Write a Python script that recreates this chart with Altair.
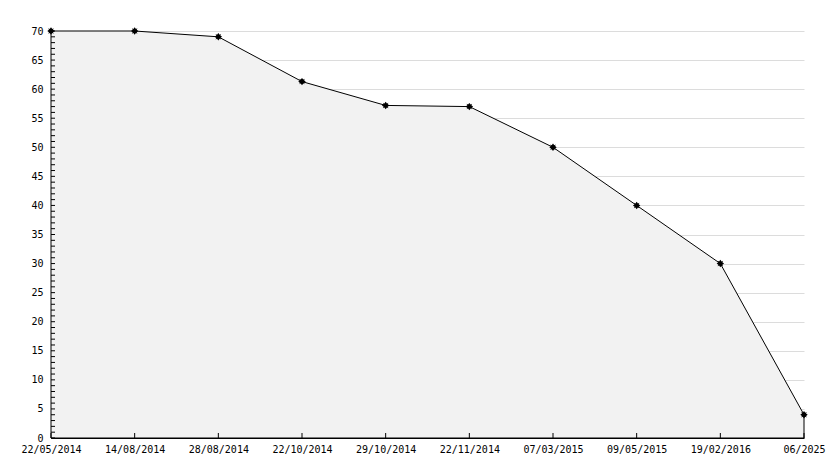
import altair as alt
import pandas as pd

dates = ["22/05/2014", "14/08/2014", "28/08/2014", "22/10/2014", "29/10/2014",
         "22/11/2014", "07/03/2015", "09/05/2015", "19/02/2016", "06/2025"]
values = [70, 70, 69, 61.3, 57.2, 57.0, 50, 40, 30, 4]
y_ticks = list(range(0, 71))
y_labels = list(range(0, 71, 5))

W, H = 753, 407
FONT = "DejaVu Sans Mono"

df = pd.DataFrame({"date": dates, "value": values})
ticks_df = pd.DataFrame({"value": y_ticks})

x_axis = alt.Axis(labelAngle=0, ticks=False, labelPadding=6,
                  labelFont=FONT, labelFontSize=10, labelColor="black",
                  domainColor="black", labelOverlap=False, labelBound=False,
                  labelFlush=False, grid=False)
y_axis = alt.Axis(values=y_labels, ticks=False, labelPadding=8,
                  labelFont=FONT, labelFontSize=10, labelColor="black",
                  labelOverlap=False,
                  domainColor="black", grid=True, gridColor="#dcdcdc",
                  gridWidth=1)
x_scale = alt.Scale(type="point", padding=0)
y_scale = alt.Scale(domain=[0, 70], nice=False, zero=True)


def xenc():
    return alt.X("date:O", sort=None, title=None, scale=x_scale, axis=x_axis)


def yenc():
    return alt.Y("value:Q", title=None, scale=y_scale, axis=y_axis)


area = alt.Chart(df).mark_area(fill="#f2f2f2", stroke="black", strokeWidth=1).encode(
    x=xenc(), y=yenc())

star = ("M0,-1L0.35,-0.55L0.75,-0.75L0.55,-0.35L1,0L0.55,0.35L0.75,0.75L0.35,0.55"
        "L0,1L-0.35,0.55L-0.75,0.75L-0.55,0.35L-1,0L-0.55,-0.35L-0.75,-0.75L-0.35,-0.55Z")
points = alt.Chart(df).mark_point(shape=star, filled=True, color="black", size=55,
                                  opacity=1).encode(x=xenc(), y=yenc())

yt = alt.Chart(ticks_df).mark_rule(color="black", strokeWidth=1).encode(
    y=yenc(), x=alt.value(0), x2=alt.value(4))

xt = alt.Chart(df).mark_rule(color="black", strokeWidth=1).encode(
    x=xenc(), y=alt.value(H - 5), y2=alt.value(H))

chart = alt.layer(area, yt, xt, points).properties(
    width=W, height=H,
    autosize=alt.AutoSizeParams(type="none"),
    padding={"left": 43, "top": 23, "right": 22, "bottom": 22},
    background="white",
).configure_view(stroke=None)

chart.save("out.html", embed_options={"renderer": "svg", "actions": False})
